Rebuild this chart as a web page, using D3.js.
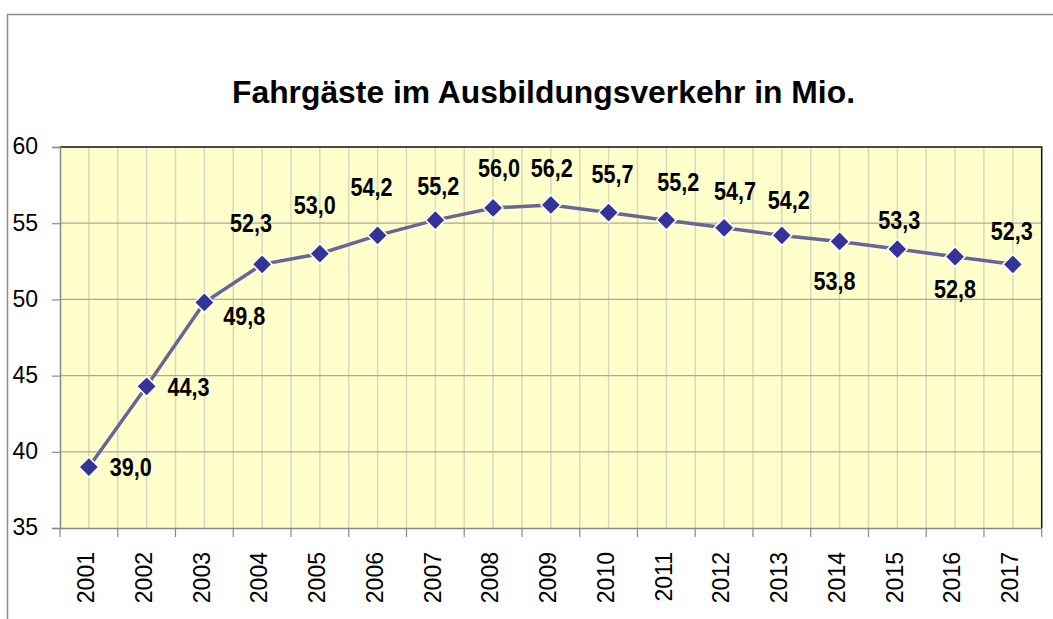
<!DOCTYPE html>
<html>
<head>
<meta charset="utf-8">
<script src="https://cdn.jsdelivr.net/npm/d3@7"></script>
<style>
  html, body { margin: 0; padding: 0; background: #fff; }
  svg { display: block; }
</style>
</head>
<body>
<div id="chart"></div>
<script>
// Data
const years = ['2001','2002','2003','2004','2005','2006','2007','2008','2009','2010','2011','2012','2013','2014','2015','2016','2017'];
const passengers = [39.0, 44.3, 49.8, 52.3, 53.0, 54.2, 55.2, 56.0, 56.2, 55.7, 55.2, 54.7, 54.2, 53.8, 53.3, 52.8, 52.3];
const yTicks = [35, 40, 45, 50, 55, 60];
const title = 'Fahrgäste im Ausbildungsverkehr in Mio.';

// label placement relative to the marker (px)
const labelShift = [[42,0],[42,1],[40,14],[-11,-41],[-5,-49],[-6,-48],[3,-34],[6,-40],[1,-37],[4,-39],[12,-38],[11,-37],[7,-35],[-5,40],[2,-29],[0,32],[-1,-33]];

const W = 1053, H = 619;
const plot = {left: 60, right: 1041.7, top: 147, bottom: 528};
const font = 'Liberation Sans, Arial, sans-serif';

const svg = d3.select('#chart').append('svg')
  .attr('width', W).attr('height', H);

// outer frame (only top and left edges visible)
svg.append('path')
  .attr('d', `M7.5,${H} V14.5 H${W}`)
  .attr('fill', 'none').attr('stroke', '#8c8c8c').attr('stroke-width', 1.5);

// title
svg.append('text')
  .attr('x', 543.5).attr('y', 103)
  .attr('text-anchor', 'middle')
  .attr('font-family', font)
  .attr('font-weight', 'bold').attr('font-size', 31)
  .attr('textLength', 623).attr('lengthAdjust', 'spacingAndGlyphs')
  .text(title);

const x = d3.scaleBand().domain(years).range([plot.left, plot.right]).padding(0);
const y = d3.scaleLinear().domain([35, 60]).range([plot.bottom, plot.top]);
const cx = d => x(d) + x.bandwidth() / 2;

// plot background
svg.append('rect')
  .attr('x', plot.left).attr('y', plot.top)
  .attr('width', plot.right - plot.left).attr('height', plot.bottom - plot.top)
  .attr('fill', '#ffffcc');

// vertical grid at band edges and centers
const vLines = [];
years.forEach(d => { vLines.push(x(d)); vLines.push(cx(d)); });
svg.append('g').selectAll('line').data(vLines.filter(v => v > plot.left + 1)).enter().append('line')
  .attr('x1', d => d).attr('x2', d => d)
  .attr('y1', plot.top).attr('y2', plot.bottom)
  .attr('stroke', '#d9d7bd').attr('stroke-width', 1.5);

// horizontal grid
svg.append('g').selectAll('line').data(yTicks.slice(1, -1)).enter().append('line')
  .attr('x1', plot.left).attr('x2', plot.right)
  .attr('y1', d => y(d)).attr('y2', d => y(d))
  .attr('stroke', '#a8a8a0').attr('stroke-width', 1.2);

// plot border (top/right)
svg.append('path')
  .attr('d', `M${plot.left},${plot.top} H${plot.right} V${plot.bottom}`)
  .attr('fill', 'none').attr('stroke', '#111').attr('stroke-width', 1.5);

// y axis
const yAxis = svg.append('g')
  .attr('transform', `translate(${plot.left},0)`)
  .call(d3.axisLeft(y).tickValues(yTicks).tickSize(8).tickPadding(14).tickFormat(d3.format('d')));
yAxis.select('.domain').attr('stroke', '#888').attr('stroke-width', 1.5);
yAxis.selectAll('.tick line').attr('stroke', '#888').attr('stroke-width', 1.2);
yAxis.selectAll('.tick text')
  .attr('font-family', font)
  .attr('font-size', 23).attr('fill', '#000')
  .attr('dy', '0.3em');

// x axis
const xAxis = svg.append('g')
  .attr('transform', `translate(0,${plot.bottom})`)
  .call(d3.axisBottom(x).tickSize(0).tickSizeOuter(0));
xAxis.select('.domain').attr('stroke', '#888').attr('stroke-width', 1.5);
xAxis.selectAll('.tick text')
  .attr('font-family', font)
  .attr('font-size', 23).attr('fill', '#000')
  .attr('text-anchor', 'end')
  .attr('transform', 'translate(-3,24) rotate(-90)')
  .attr('x', 0).attr('y', 0).attr('dy', '0.36em');

// x tick marks at band edges
svg.append('g').selectAll('line').data(years.map(d => x(d)).concat([plot.right])).enter().append('line')
  .attr('x1', d => d).attr('x2', d => d)
  .attr('y1', plot.bottom).attr('y2', plot.bottom + 9)
  .attr('stroke', '#888').attr('stroke-width', 1.2);

// line
const line = d3.line().x((d, i) => cx(years[i])).y(d => y(d));
svg.append('path')
  .datum(passengers)
  .attr('d', line)
  .attr('fill', 'none').attr('stroke', '#666699').attr('stroke-width', 3.5);

// markers
const diamond = d3.symbol().type(d3.symbolDiamond2).size(250);
svg.append('g').selectAll('path').data(passengers).enter().append('path')
  .attr('d', diamond)
  .attr('transform', (d, i) => `translate(${cx(years[i])},${y(d)})`)
  .attr('fill', '#333399').attr('stroke', '#fff').attr('stroke-width', 1.5);

// value labels (narrow bold)
svg.append('g').selectAll('text').data(passengers).enter().append('text')
  .attr('x', (d, i) => cx(years[i]) + labelShift[i][0])
  .attr('y', (d, i) => y(d) + labelShift[i][1])
  .attr('dy', '0.36em')
  .attr('text-anchor', 'middle')
  .attr('font-family', font).attr('font-weight', 'bold')
  .attr('font-size', 25).attr('fill', '#000')
  .attr('textLength', 42).attr('lengthAdjust', 'spacingAndGlyphs')
  .text(d => d3.format('.1f')(d).replace('.', ','));
</script>
</body>
</html>
